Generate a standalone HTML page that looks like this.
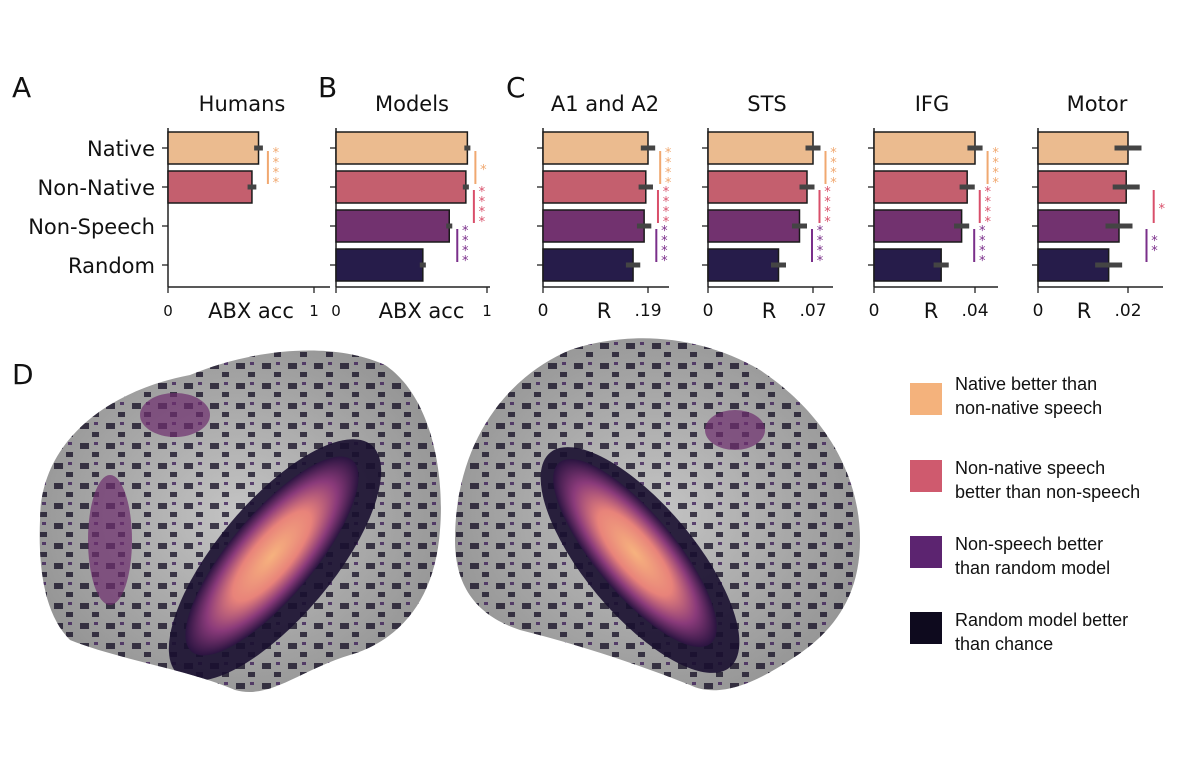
<!DOCTYPE html>
<html><head><meta charset="utf-8"><style>
body{margin:0;background:#fff;width:1200px;height:778px;overflow:hidden;font-family:"DejaVu Sans","Liberation Sans",sans-serif}
svg text{font-family:"DejaVu Sans","Liberation Sans",sans-serif;fill:#111}
.lg{font-family:"Liberation Sans",sans-serif;font-size:18px;fill:#111}
</style></head><body>
<svg id="fig" width="1200" height="778" viewBox="0 0 1200 778" xmlns="http://www.w3.org/2000/svg">
<defs>
<radialGradient id="gray" cx="50%" cy="50%" r="60%"><stop offset="0" stop-color="#c4c4c4"/><stop offset="1" stop-color="#8e8e8e"/></radialGradient>
<radialGradient id="hot" cx="50%" cy="50%" r="50%"><stop offset="0" stop-color="#f6b27e"/><stop offset="0.45" stop-color="#e8837a"/><stop offset="0.75" stop-color="#8a3a7a"/><stop offset="1" stop-color="#2a1440"/></radialGradient>
<pattern id="spots" width="26" height="20" patternUnits="userSpaceOnUse"><rect x="2" y="3" width="9" height="6" fill="#120c22"/><rect x="14" y="12" width="7" height="5" fill="#120c22"/><rect x="16" y="2" width="4" height="3" fill="#3a1a55"/></pattern>
<clipPath id="clipL"><path d="M40,520 C40,440 110,390 190,375 C250,350 330,340 385,365 C430,395 445,470 440,530 C435,600 400,640 350,655 C300,670 270,700 235,690 C190,670 120,660 70,640 C45,615 38,570 40,520Z"/></clipPath>
<clipPath id="clipR"><path d="M455,540 C455,450 500,380 570,350 C630,330 700,335 760,370 C820,410 860,470 860,540 C860,600 830,635 790,660 C760,680 720,700 690,685 C640,665 580,645 520,630 C475,615 455,585 455,540Z"/></clipPath>
</defs>
<text x="12" y="97" font-size="28">A</text>
<text x="318" y="97" font-size="28">B</text>
<text x="506" y="97" font-size="28">C</text>
<text x="12" y="384" font-size="28">D</text>
<g id="charts"></g>
<g clip-path="url(#clipL)">
<rect x="30" y="330" width="420" height="370" fill="url(#gray)"/>
<rect x="30" y="330" width="420" height="370" fill="url(#spots)" opacity="0.75"/>
<ellipse cx="275" cy="560" rx="150" ry="58" transform="rotate(-50 275 560)" fill="#1a0f30" opacity="0.9"/>
<ellipse cx="272" cy="556" rx="125" ry="42" transform="rotate(-50 272 556)" fill="url(#hot)"/>
<ellipse cx="110" cy="540" rx="22" ry="65" fill="#6e2e6e" opacity="0.7"/>
<ellipse cx="175" cy="415" rx="35" ry="22" fill="#6e2e6e" opacity="0.7"/>
</g>
<g clip-path="url(#clipR)">
<rect x="445" y="325" width="425" height="375" fill="url(#gray)"/>
<rect x="445" y="325" width="425" height="375" fill="url(#spots)" opacity="0.75"/>
<ellipse cx="640" cy="560" rx="140" ry="55" transform="rotate(50 640 560)" fill="#1a0f30" opacity="0.9"/>
<ellipse cx="635" cy="553" rx="118" ry="40" transform="rotate(50 635 553)" fill="url(#hot)"/>
<ellipse cx="735" cy="430" rx="30" ry="20" fill="#6e2e6e" opacity="0.7"/>
</g>
<g>
<rect x="910" y="383" width="32" height="32" fill="#f4b27c"/>
<text class="lg" x="955" y="390"><tspan x="955">Native better than</tspan><tspan x="955" dy="24">non-native speech</tspan></text>
<rect x="910" y="460" width="32" height="32" fill="#cf5a6e"/>
<text class="lg" x="955" y="474"><tspan x="955">Non-native speech</tspan><tspan x="955" dy="24">better than non-speech</tspan></text>
<rect x="910" y="536" width="32" height="32" fill="#5c2470"/>
<text class="lg" x="955" y="550"><tspan x="955">Non-speech better</tspan><tspan x="955" dy="24">than random model</tspan></text>
<rect x="910" y="612" width="32" height="32" fill="#0e0a1e"/>
<text class="lg" x="955" y="626"><tspan x="955">Random model better</tspan><tspan x="955" dy="24">than chance</tspan></text>
</g>
</svg>
<script>
const categories = ["Native","Non-Native","Non-Speech","Random"];
const panelTitles = ["Humans","Models","A1 and A2","STS","IFG","Motor"];
const axisMax = [1,1,0.19,0.07,0.04,0.02];
const maxTickLabels = ["1","1",".19",".07",".04",".02"];
const xLabels = ["ABX acc","ABX acc","R","R","R","R"];
const humansValues = [0.62,0.575,null,null];
const modelsValues = [0.87,0.86,0.75,0.575];
const a1Values = [0.19,0.186,0.183,0.163];
const stsValues = [0.07,0.066,0.061,0.047];
const ifgValues = [0.04,0.0369,0.0347,0.0266];
const motorValues = [0.02,0.0196,0.018,0.0157];
const humansErr = [0.03,0.03,null,null];
const modelsErr = [0.02,0.02,0.02,0.02];
const a1Err = [0.013,0.013,0.013,0.013];
const stsErr = [0.005,0.005,0.005,0.005];
const ifgErr = [0.003,0.003,0.003,0.003];
const motorErr = [0.003,0.003,0.003,0.003];
const sigStars = [[4,0,0],[1,4,4],[4,4,4],[4,4,4],[4,4,4],[0,1,2]];
const seriesVals=[humansValues,modelsValues,a1Values,stsValues,ifgValues,motorValues];
const seriesErr=[humansErr,modelsErr,a1Err,stsErr,ifgErr,motorErr];
const colors=["#ebbb8f","#c45f6e","#72326f","#261c4a"];
const sigColors=["#f0a870","#d94f6a","#7a2f8a"];
const layout=[[168,314,330],[336,487,490],[543,648,669],[708,813,833],[874,975,998],[1038,1128,1163]];
const titleX=[242,412,605,767,932,1097];
const NS="http://www.w3.org/2000/svg";
const g=document.getElementById('charts');
function mk(t,a,p){const e=document.createElementNS(NS,t);for(const k in a)e.setAttribute(k,a[k]);(p||g).appendChild(e);return e;}
const rowY=i=>148+i*39;
panelTitles.forEach((title,p)=>{
  const [x0,x1,xe]=layout[p];
  const xs=v=>x0+(v/axisMax[p])*(x1-x0);
  const pg=mk('g',{});
  
  
  const t=mk('text',{x:titleX[p],y:111,'font-size':21,'text-anchor':'middle'},pg);t.textContent=title;
  
  const ax=mk('line',{x1:x0,y1:128,x2:x0,y2:287,stroke:'#222','stroke-width':1.5},pg);
  
  const bx=mk('line',{x1:x0,y1:287,x2:xe,y2:287,stroke:'#222','stroke-width':1.5},pg);
  
  [[0,'0'],[axisMax[p],maxTickLabels[p]]].forEach(([v,l])=>{
    mk('line',{x1:xs(v),y1:287,x2:xs(v),y2:293,stroke:'#222','stroke-width':1.3},pg);
    const tl=mk('text',{x:xs(v),y:316,'font-size':p<2?15:17,'text-anchor':'middle'},pg);tl.textContent=l;
    
  });
  const xl=mk('text',{x:p<2?(x0+x1)/2+10:xs(axisMax[p])-44,y:318,'font-size':21,'text-anchor':'middle'},pg);xl.textContent=xLabels[p];
  
  categories.forEach((c,i)=>{
    mk('line',{x1:x0-6,y1:rowY(i),x2:x0,y2:rowY(i),stroke:'#222','stroke-width':1.3},pg);
    if(p===0){const cl=mk('text',{x:155,y:rowY(i)+8,'font-size':21,'text-anchor':'end'},pg);cl.textContent=c;
      }
    const v=seriesVals[p][i];if(v==null)return;
    const b=mk('rect',{x:x0,y:rowY(i)-16,width:xs(v)-x0,height:32,fill:colors[i],stroke:'#1a1a1a','stroke-width':1.5},pg);
    
    const e=seriesErr[p][i];
    const eb=mk('line',{x1:xs(v-e),y1:rowY(i),x2:xs(v+e),y2:rowY(i),stroke:'#444','stroke-width':5},pg);
    
  });
  sigStars[p].forEach((n,k)=>{
    if(!n)return;
    const vmax=Math.max(seriesVals[p][k]+seriesErr[p][k],seriesVals[p][k+1]+seriesErr[p][k+1]);
    const lx=xs(vmax)+(p===5?14:5);
    const sl=mk('line',{x1:lx,y1:rowY(k)+3,x2:lx,y2:rowY(k+1)-3,stroke:sigColors[k],'stroke-width':2},pg);
    
    for(let s=0;s<n;s++){
      const st=mk('text',{x:lx+8,y:rowY(k)+9+(n===1?17:s*10+ (n===2?10:0)),'font-size':13,fill:sigColors[k],'text-anchor':'middle'},pg);
      st.style.fill=sigColors[k];st.textContent='*';
      
    }
  });
});
</script>
</body></html>
